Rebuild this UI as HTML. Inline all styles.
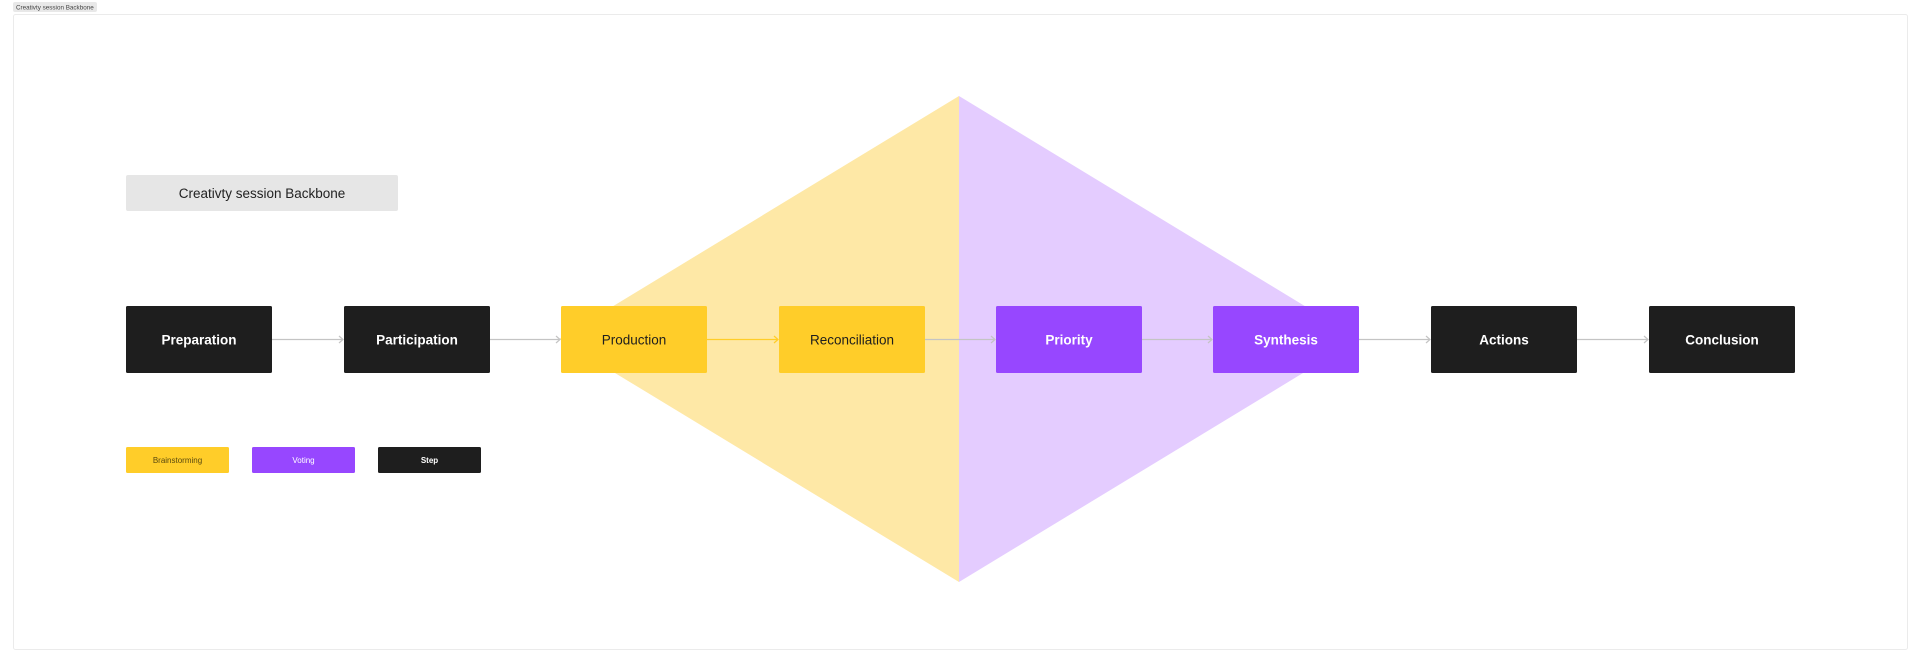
<!DOCTYPE html>
<html><head><meta charset="utf-8"><style>
html,body{margin:0;padding:0;background:#fff;width:1920px;height:664px;overflow:hidden}
svg{display:block}
text{font-family:"Liberation Sans",sans-serif}
</style></head><body>
<svg width="1920" height="664" viewBox="0 0 1920 664" xmlns="http://www.w3.org/2000/svg">
<rect x="13" y="2" width="84" height="10" rx="2" fill="#e8e8e8"/>
<text x="16" y="9.5" font-size="6.3" fill="#444">Creativty session Backbone</text>
<rect x="13.5" y="14.5" width="1894" height="635" rx="2" fill="#fff" stroke="#ebebeb"/>
<polygon points="959,96 559,339 959,582" fill="#FEE8A6"/>
<polygon points="959,96 1359,339 959,582" fill="#E4CCFF"/>
<rect x="126" y="175" width="272" height="36" rx="2" fill="#e6e6e6"/>
<text x="262" y="198" font-size="13.5" fill="#222" text-anchor="middle">Creativty session Backbone</text>
<g stroke="#c4c4c4" stroke-width="1.2" fill="none">
<line x1="272" y1="339.5" x2="343" y2="339.5"/><polyline points="339,336 343,339.5 339,343"/>
<line x1="490" y1="339.5" x2="560" y2="339.5"/><polyline points="556,336 560,339.5 556,343"/>
<line x1="924" y1="339.5" x2="995" y2="339.5"/><polyline points="991,336 995,339.5 991,343"/>
<line x1="1142" y1="339.5" x2="1212" y2="339.5"/><polyline points="1208,336 1212,339.5 1208,343"/>
<line x1="1359" y1="339.5" x2="1430" y2="339.5"/><polyline points="1426,336 1430,339.5 1426,343"/>
<line x1="1577" y1="339.5" x2="1648" y2="339.5"/><polyline points="1644,336 1648,339.5 1644,343"/>
</g>
<g stroke="#FFCD29" stroke-width="1.2" fill="none">
<line x1="707" y1="339.5" x2="778" y2="339.5"/><polyline points="774,336 778,339.5 774,343"/>
</g>
<g font-size="13.5" text-anchor="middle">
<rect x="126" y="306" width="146" height="67" rx="1.5" fill="#1E1E1E"/><text x="199" y="344.5" fill="#fff" font-weight="bold">Preparation</text>
<rect x="344" y="306" width="146" height="67" rx="1.5" fill="#1E1E1E"/><text x="417" y="344.5" fill="#fff" font-weight="bold">Participation</text>
<rect x="561" y="306" width="146" height="67" rx="1.5" fill="#FFCD29"/><text x="634" y="344.5" fill="#1E1E1E">Production</text>
<rect x="779" y="306" width="146" height="67" rx="1.5" fill="#FFCD29"/><text x="852" y="344.5" fill="#1E1E1E">Reconciliation</text>
<rect x="996" y="306" width="146" height="67" rx="1.5" fill="#9747FF"/><text x="1069" y="344.5" fill="#fff" font-weight="bold">Priority</text>
<rect x="1213" y="306" width="146" height="67" rx="1.5" fill="#9747FF"/><text x="1286" y="344.5" fill="#fff" font-weight="bold">Synthesis</text>
<rect x="1431" y="306" width="146" height="67" rx="1.5" fill="#1E1E1E"/><text x="1504" y="344.5" fill="#fff" font-weight="bold">Actions</text>
<rect x="1649" y="306" width="146" height="67" rx="1.5" fill="#1E1E1E"/><text x="1722" y="344.5" fill="#fff" font-weight="bold">Conclusion</text>
</g>
<g font-size="8" text-anchor="middle">
<rect x="126" y="447" width="103" height="26" rx="1.5" fill="#FFCD29"/><text x="177.5" y="463" fill="#5a4a10">Brainstorming</text>
<rect x="252" y="447" width="103" height="26" rx="1.5" fill="#9747FF"/><text x="303.5" y="463" fill="#fff">Voting</text>
<rect x="378" y="447" width="103" height="26" rx="1.5" fill="#1E1E1E"/><text x="429.5" y="463" fill="#fff" font-weight="bold">Step</text>
</g>
</svg>
</body></html>
